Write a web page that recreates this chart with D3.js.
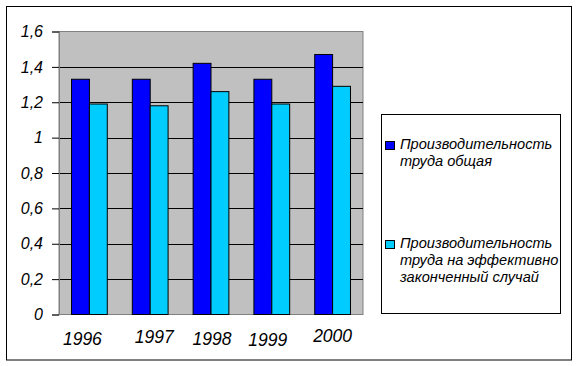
<!DOCTYPE html>
<html>
<head>
<meta charset="utf-8">
<script src="https://cdn.jsdelivr.net/npm/d3@7"></script>
<style>
  body { margin: 0; background: #fff; }
  text { font-family: "Liberation Sans", Arial, sans-serif; font-style: italic; }
</style>
</head>
<body>
<svg id="chart" width="578" height="366"></svg>
<script>
const years = ["1996", "1997", "1998", "1999", "2000"];
const seriesNames = ["Производительность труда общая", "Производительность труда на эффективно законченный случай"];
const totalProductivity = [1.33, 1.33, 1.42, 1.33, 1.47];
const caseProductivity = [1.19, 1.18, 1.26, 1.19, 1.29];
const yTicks = [0, 0.2, 0.4, 0.6, 0.8, 1, 1.2, 1.4, 1.6];

// legend text broken into lines like the original
const legendLines = [
    ["Производительность", "труда общая"],
    ["Производительность", "труда на эффективно", "законченный случай"]
];
const colors = ["#0000ff", "#00ccff"];
// year labels sit a little unevenly in the original
const labelNudge = [[-7, 345], [4, 343], [1, 345], [-4, 346], [0, 342]];

const svg = d3.select("#chart");

svg.append("rect")
    .attr("x", 6.5).attr("y", 6.5)
    .attr("width", 565).attr("height", 353.5)
    .attr("fill", "#fff").attr("stroke", "#000");

const plot = { left: 59, right: 363, top: 31.5, bottom: 314.5 };

const y = d3.scaleLinear().domain([0, 1.6]).range([plot.bottom, plot.top]);
const x0 = d3.scaleBand().domain(years).range([plot.left, plot.right]);
const x1 = d3.scaleBand().domain([0, 1])
    .range([0, x0.bandwidth()])
    .paddingInner(0).paddingOuter(0.7);

svg.append("rect")
    .attr("x", plot.left).attr("y", plot.top)
    .attr("width", plot.right - plot.left).attr("height", plot.bottom - plot.top)
    .attr("fill", "#c0c0c0").attr("stroke", "#808080");

svg.append("g")
    .selectAll("line")
    .data(yTicks.slice(1, -1))
    .enter().append("line")
    .attr("x1", plot.left).attr("x2", plot.right)
    .attr("y1", d => Math.round(y(d)) + 0.5).attr("y2", d => Math.round(y(d)) + 0.5)
    .attr("stroke", "#000");

const yAxis = svg.append("g")
    .attr("transform", `translate(${plot.left},0)`)
    .call(d3.axisLeft(y).tickValues(yTicks).tickSize(7).tickPadding(9)
        .tickFormat(d => String(d).replace(".", ",")));
yAxis.select(".domain").attr("stroke", "#808080");
yAxis.selectAll(".tick line").attr("stroke", "#000");
yAxis.selectAll(".tick text")
    .attr("fill", "#000")
    .style("font-size", "16px")
    .style("font-family", "'Liberation Sans', Arial, sans-serif")
    .style("font-style", "italic");

const rows = years.map((yr, i) => ({ year: yr, values: [totalProductivity[i], caseProductivity[i]] }));

svg.append("g")
    .selectAll("g")
    .data(rows)
    .enter().append("g")
    .attr("transform", d => `translate(${x0(d.year)},0)`)
    .selectAll("rect")
    .data(d => d.values.map((v, k) => ({ k, v })))
    .enter().append("rect")
    .attr("x", d => x1(d.k))
    .attr("width", x1.bandwidth())
    .attr("y", d => y(d.v))
    .attr("height", d => y(0) - y(d.v))
    .attr("fill", d => colors[d.k])
    .attr("stroke", "#000")
    .attr("stroke-width", 1);

svg.append("g")
    .selectAll("text")
    .data(years)
    .enter().append("text")
    .attr("x", (d, i) => x0(d) + x0.bandwidth() / 2 + labelNudge[i][0])
    .attr("y", (d, i) => labelNudge[i][1])
    .attr("text-anchor", "middle")
    .style("font-size", "17.5px")
    .text(d => d);

const legend = svg.append("g");
legend.append("rect")
    .attr("x", 381.5).attr("y", 114.5)
    .attr("width", 179).attr("height", 199)
    .attr("fill", "#fff").attr("stroke", "#000");

const entryTop = [141, 240];
legendLines.forEach((lines, k) => {
    legend.append("rect")
        .attr("x", 385.5).attr("y", entryTop[k] + 0.5)
        .attr("width", 9).attr("height", 8)
        .attr("fill", colors[k]).attr("stroke", "#000");
    legend.append("text")
        .attr("x", 400)
        .attr("y", entryTop[k] + 8)
        .style("font-size", "14.6px")
        .attr("aria-label", seriesNames[k])
        .selectAll("tspan")
        .data(lines)
        .enter().append("tspan")
        .attr("x", 400)
        .attr("dy", (d, i) => i === 0 ? 0 : 17)
        .text(d => d);
});
</script>
</body>
</html>
